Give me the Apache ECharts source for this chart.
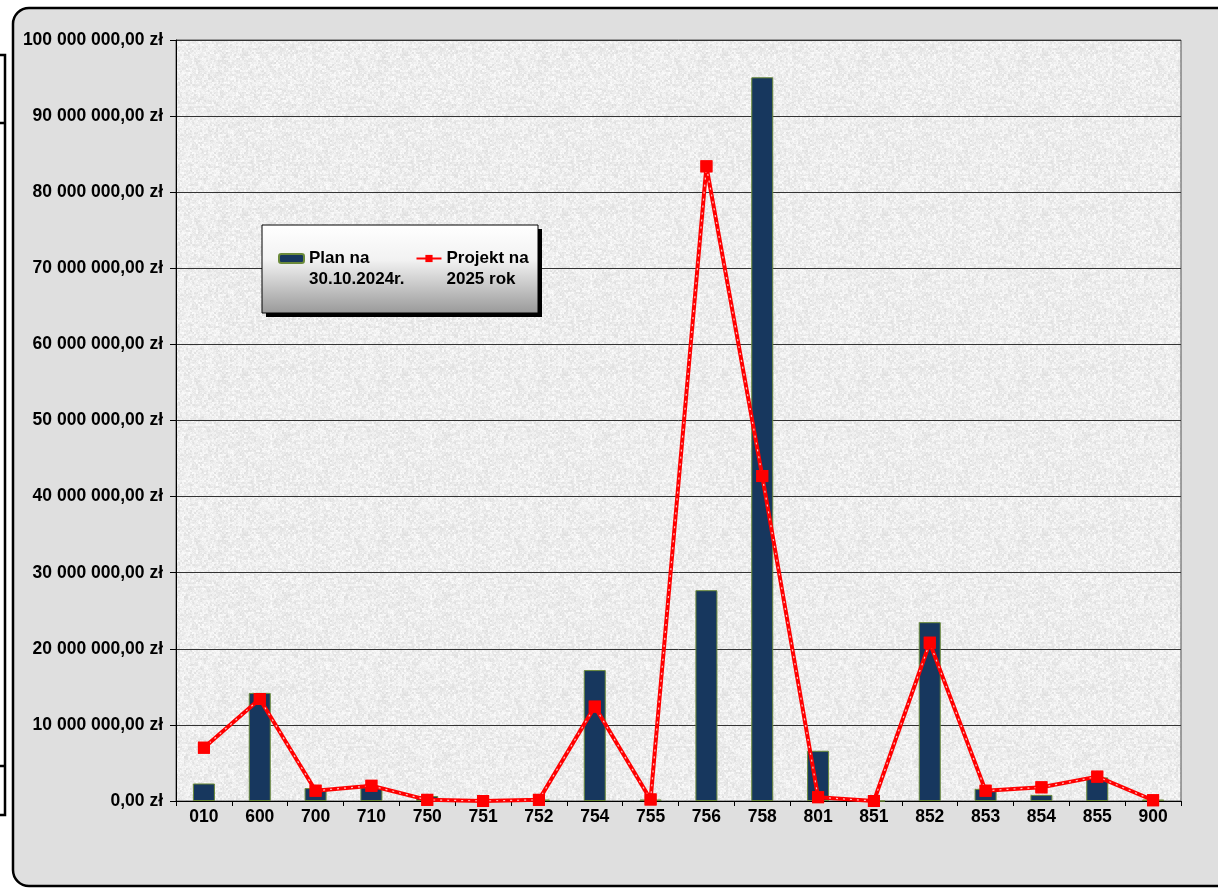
<!DOCTYPE html>
<html>
<head>
<meta charset="utf-8">
<script src="https://cdn.jsdelivr.net/npm/echarts@6/dist/echarts.min.js"></script>
<style>
html,body{margin:0;padding:0;background:#ffffff;}
#chart{width:1218px;height:888px;}
</style>
</head>
<body>
<div id="chart"></div>
<script>
const categories = ['010','600','700','710','750','751','752','754','755','756','758','801','851','852','853','854','855','900'];
const planValues = [2300000,14200000,1700000,1800000,650000,0,200000,17200000,200000,27700000,95100000,6600000,0,23500000,1600000,800000,3100000,200000];
const projektValues = [7000000,13400000,1350000,2000000,150000,0,150000,12400000,200000,83400000,42700000,500000,0,20800000,1350000,1800000,3200000,100000];
const planName = 'Plan na\n30.10.2024r.';
const projektName = 'Projekt na\n2025 rok';
const yTicks = {min:0, max:100000000, interval:10000000};

function fmtZl(v){
  const s = Math.round(v).toString().replace(/\B(?=(\d{3})+(?!\d))/g,' ');
  return s + ',00 zł';
}

// deterministic granite-like texture for plot background
function makeTexture(){
  const size = 160;
  const c = document.createElement('canvas');
  c.width = size; c.height = size;
  const ctx = c.getContext('2d');
  const img = ctx.createImageData(size, size);
  function h(x, y){
    let n = x * 374761393 + y * 668265263;
    n = (n ^ (n >>> 13)) * 1274126177;
    n = n ^ (n >>> 16);
    return ((n >>> 0) % 1000) / 1000;
  }
  for (let y = 0; y < size; y++){
    for (let x = 0; x < size; x++){
      const g = (h(x >> 1, y >> 1) + h(x, y) * 0.6) / 1.6;
      const v = Math.round(220 + g * 34);
      const i = (y * size + x) * 4;
      img.data[i] = v; img.data[i+1] = v; img.data[i+2] = v; img.data[i+3] = 255;
    }
  }
  ctx.putImageData(img, 0, 0);
  return c;
}

const chart = echarts.init(document.getElementById('chart'), null, {renderer:'canvas'});
const font = 'Arial, "Liberation Sans", sans-serif';

chart.setOption({
  animation:false,
  backgroundColor:'#ffffff',
  graphic:[
    {type:'rect', z:-10, shape:{x:13,y:8,width:1240,height:878,r:16},
     style:{fill:'#dfdfdf', stroke:'#000', lineWidth:2.5}},
    {type:'polyline', z:-10, shape:{points:[[0,55],[5,55],[5,815],[0,815]]}, style:{fill:null, stroke:'#000', lineWidth:2.5}},
    {type:'line', z:-10, shape:{x1:0,y1:123,x2:5,y2:123}, style:{stroke:'#000', lineWidth:2.5}},
    {type:'line', z:-10, shape:{x1:0,y1:766,x2:5,y2:766}, style:{stroke:'#000', lineWidth:2.5}},
    {type:'rect', z:3, shape:{x:266,y:229,width:276,height:88}, style:{fill:'#000'}},
    {type:'rect', z:3, shape:{x:262,y:225,width:276,height:88},
     style:{fill:{type:'linear',x:0,y:0,x2:0,y2:1,colorStops:[{offset:0,color:'#ffffff'},{offset:0.4,color:'#f2f2f2'},{offset:1,color:'#999999'}]},
            stroke:'#000', lineWidth:1}}
  ],
  grid:{left:176, right:37, top:40, bottom:87, show:true,
        backgroundColor:{image:makeTexture(), repeat:'repeat'}, borderColor:'#555', borderWidth:1},
  legend:{
    left:273, top:222, orient:'horizontal', itemGap:11, itemWidth:25, itemHeight:9, z:5,
    data:[planName, projektName],
    formatter:function(name){ return '\n' + name; },
    textStyle:{fontFamily:font, fontWeight:'bold', fontSize:17, color:'#000', lineHeight:21}
  },
  xAxis:{
    type:'category', data:categories, boundaryGap:true,
    axisLine:{show:true, lineStyle:{color:'#000', width:1}},
    axisTick:{show:true, length:5, lineStyle:{color:'#000'}},
    axisLabel:{fontFamily:font, fontWeight:'bold', fontSize:17.5, color:'#000', margin:7, interval:0},
    splitLine:{show:false}
  },
  yAxis:{
    type:'value', min:yTicks.min, max:yTicks.max, interval:yTicks.interval,
    axisLine:{show:true, lineStyle:{color:'#000', width:1}},
    axisTick:{show:true, length:6, lineStyle:{color:'#000'}},
    axisLabel:{fontFamily:font, fontWeight:'bold', fontSize:17.5, color:'#000', margin:13, formatter:fmtZl},
    splitLine:{show:true, lineStyle:{color:'#333', width:1}}
  },
  series:[
    {name:planName, type:'bar', data:planValues, barWidth:22,
     itemStyle:{color:'#17375e', borderColor:'#6b8a3a', borderWidth:1}},
    {name:projektName, type:'line', data:projektValues, symbol:'rect', symbolSize:12,
     lineStyle:{color:'#ff0000', width:4}, itemStyle:{color:'#ff0000'}, z:3},
    {name:'_dots', type:'line', data:projektValues, symbol:'none', silent:true, z:4,
     lineStyle:{color:'rgba(255,255,255,0.75)', width:1.2, type:[2,5]}},
    {name:'_marks', type:'line', data:projektValues, symbol:'rect', symbolSize:12, silent:true, z:5,
     lineStyle:{opacity:0}, itemStyle:{color:'#ff0000'}}
  ]
});
</script>
</body>
</html>
